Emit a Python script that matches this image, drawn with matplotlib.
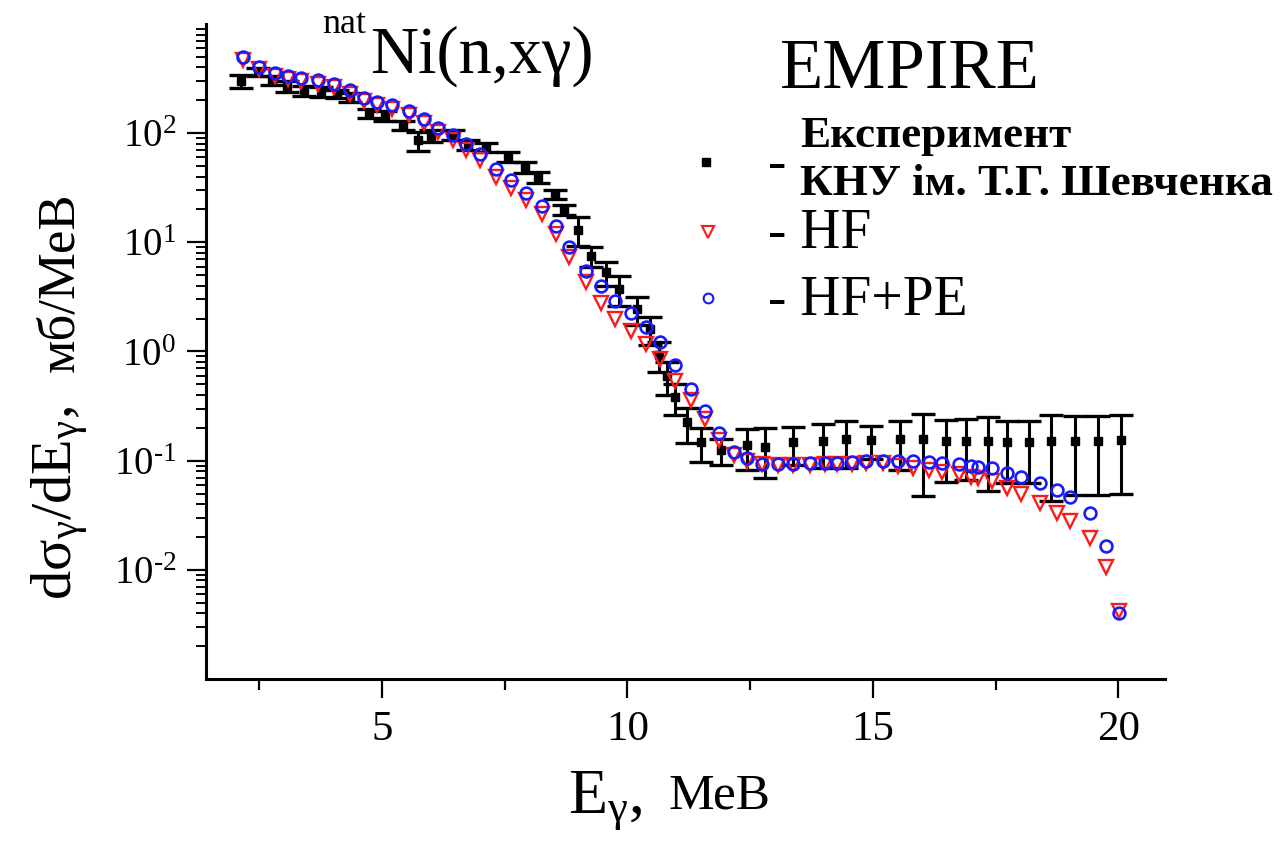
import numpy as np
import matplotlib
matplotlib.use("Agg")
from matplotlib import pyplot as plt
from matplotlib.ticker import FixedLocator, LogLocator, NullFormatter

# experiment (KNU), MeV / mb/MeV
exp_e = [2.13, 2.48, 2.77, 3.07, 3.41, 3.77, 4.09, 4.36, 4.73, 5.07, 5.44, 5.74, 6.01,
         6.45, 6.76, 7.13, 7.57, 7.91, 8.18, 8.52, 8.72, 8.99, 9.26, 9.56, 9.83, 10.19,
         10.46, 10.65, 10.80, 10.98, 11.22, 11.50, 11.91, 12.44, 12.81, 13.37, 13.98,
         14.45, 14.97, 15.56, 16.03, 16.49, 16.90, 17.35, 17.74, 18.18, 18.63, 19.11,
         19.58, 20.06]
exp_val = [300, 362, 304, 268, 246, 238, 230, 214, 153, 143, 118, 86, 95,
           96, 78, 74, 61, 49, 39.5, 27.8, 19.9, 13.1, 7.5, 5.3, 3.76, 2.44,
           1.6, 0.93, 0.60, 0.38, 0.226, 0.148, 0.124, 0.138, 0.134, 0.148, 0.151,
           0.157, 0.155, 0.157, 0.157, 0.151, 0.153, 0.153, 0.148, 0.148, 0.153, 0.153,
           0.153, 0.155]
exp_err = [40, 30, 30, 30, 25, 25, 20, 20, 15, 15, 12, 17, 12,
           10, 8, 6.5, 6, 5.5, 4.5, 2.6, 2.0, 3.8, 1.5, 1.3, 1.15, 0.7,
           0.46, 0.28, 0.2, 0.12, 0.08, 0.05, 0.033, 0.056, 0.065, 0.057, 0.065,
           0.072, 0.052, 0.075, 0.11, 0.087, 0.087, 0.1, 0.085, 0.085, 0.11, 0.105,
           0.105, 0.105]

# EMPIRE calculations
calc_e = [2.17, 2.50, 2.82, 3.09, 3.36, 3.70, 4.02, 4.36, 4.63, 4.90, 5.20, 5.55, 5.85,
          6.15, 6.45, 6.72, 6.99, 7.33, 7.64, 7.94, 8.26, 8.55, 8.82, 9.16, 9.46, 9.75,
          10.07, 10.38, 10.67, 10.98, 11.29, 11.58, 11.87, 12.17, 12.44, 12.74, 13.06,
          13.38, 13.72, 14.03, 14.28, 14.57, 14.87, 15.20, 15.51, 15.82, 16.14, 16.41,
          16.75, 17.00, 17.14, 17.43, 17.74, 18.02, 18.40, 18.76, 19.01, 19.42, 19.75,
          20.01]
hf = [470, 385, 335, 312, 300, 285, 265, 230, 197, 180, 166, 148, 124,
      103, 86, 70, 56.7, 40, 31.3, 24.5, 18, 12, 7.3, 4.35, 2.8, 2.0,
      1.55, 1.17, 0.853, 0.54, 0.356, 0.24, 0.155, 0.112, 0.1, 0.094, 0.092,
      0.092, 0.092, 0.093, 0.093, 0.094, 0.095, 0.096, 0.0895, 0.0855, 0.0815, 0.079,
      0.0748, 0.0712, 0.069, 0.0645, 0.0567, 0.0499, 0.0406, 0.0332, 0.0278, 0.0194, 0.0106,
      0.0042]
hf_pe = [497, 408, 355, 331, 322, 304, 284, 246, 211, 193, 180, 160, 136,
         112, 96, 80, 65, 47, 37.3, 28.2, 21.3, 14.2, 9.0, 5.5, 3.98, 2.9,
         2.24, 1.69, 1.22, 0.75, 0.454, 0.288, 0.18, 0.120, 0.106, 0.094, 0.094,
         0.094, 0.096, 0.096, 0.096, 0.0975, 0.099, 0.1, 0.1, 0.1, 0.098, 0.096,
         0.093, 0.0895, 0.088, 0.085, 0.0776, 0.0712, 0.0627, 0.0538, 0.0465, 0.0332, 0.0164,
         0.00405]

ytick_vals = [1e-2, 1e-1, 1e0, 1e1, 1e2]
ytick_text = [r"$\mathregular{10^{\text{-}2}}$", r"$\mathregular{10^{\text{-}1}}$",
              r"$\mathregular{10^{0}}$", r"$\mathregular{10^{1}}$",
              r"$\mathregular{10^{2}}$"]

W, H = 1281, 846
plt.rcParams["font.family"] = ["Liberation Serif", "DejaVu Serif"]
plt.rcParams["mathtext.fontset"] = "custom"
plt.rcParams["mathtext.rm"] = "Liberation Serif"
plt.rcParams["mathtext.it"] = "Liberation Serif:italic"
plt.rcParams["mathtext.bf"] = "Liberation Serif:bold"

RED = "#ff1a1a"
BLUE = "#1a1aff"


def fx(px):
    return px / W


def fy(py):
    return 1 - py / H


fig = plt.figure(figsize=(W / 100, H / 100), dpi=100)
ax = fig.add_axes([fx(206), fy(679), fx(1165) - fx(206), fy(24) - fy(679)])

ax.errorbar(exp_e, exp_val, yerr=exp_err, fmt="s", color="black", ms=6,
            elinewidth=2.2, capsize=8.5, capthick=2.4, zorder=2)
ax.plot(calc_e, hf, "v", ls="none", mfc="none", mec=RED, mew=1.7, ms=10.5, zorder=3)
ax.plot(calc_e, hf_pe, "o", ls="none", mfc="none", mec=BLUE, mew=1.9, ms=8.5, zorder=4)

ax.set_yscale("log")
ax.set_xlim(1.42, 20.95)
ax.set_ylim(1e-3, 1e3)

for s in ["top", "right"]:
    ax.spines[s].set_visible(False)
for s in ["left", "bottom"]:
    ax.spines[s].set_linewidth(2.2)

ax.xaxis.set_major_locator(FixedLocator([5, 10, 15, 20]))
ax.xaxis.set_minor_locator(FixedLocator([2.5, 7.5, 12.5, 17.5]))
ax.yaxis.set_major_locator(FixedLocator(ytick_vals))
ax.yaxis.set_minor_locator(LogLocator(base=10, subs=np.arange(2, 10), numticks=20))
ax.yaxis.set_minor_formatter(NullFormatter())
ax.set_yticklabels(ytick_text)
ax.tick_params(axis="x", which="major", direction="out", length=13.5, width=1.6,
               labelsize=31, pad=9)
ax.tick_params(axis="x", which="minor", direction="out", length=8, width=1.6)
ax.tick_params(axis="y", which="major", direction="out", length=13.5, width=1.6,
               labelsize=28, pad=8)
ax.tick_params(axis="y", which="minor", direction="out", length=7, width=1.4)

# axis titles
fig.text(fx(568), fy(812), r"$\mathregular{E_{\gamma},}$", fontsize=46,
         ha="left", va="baseline")
fig.text(fx(668), fy(808), "МеВ", fontsize=37, ha="left", va="baseline")
fig.text(fx(72), fy(600), r"$\mathregular{d\sigma_{\gamma}/dE_{\gamma},}$", fontsize=42,
         rotation=90, rotation_mode="anchor", ha="left", va="baseline")
fig.text(fx(73), fy(372), "мб/МеВ", fontsize=38,
         rotation=90, rotation_mode="anchor", ha="left", va="baseline")

# titles
fig.text(fx(322), fy(33), "nat", fontsize=26, ha="left", va="baseline")
fig.text(fx(370), fy(73), "Ni(n,xγ)", fontsize=48, ha="left", va="baseline")
fig.text(fx(780), fy(88), "EMPIRE", fontsize=51, ha="left", va="baseline")

# legend
fig.lines.append(plt.Line2D([fx(706)], [fy(162)], marker="s", color="black", ms=5.5,
                            transform=fig.transFigure))
fig.lines.append(plt.Line2D([fx(708)], [fy(232)], marker="v", mfc="none", mec=RED,
                            mew=1.5, ms=8.5, transform=fig.transFigure))
fig.lines.append(plt.Line2D([fx(708)], [fy(298)], marker="o", mfc="none", mec=BLUE,
                            mew=1.5, ms=7, transform=fig.transFigure))
fig.text(fx(768), fy(179), "-", fontsize=40, ha="left", va="baseline")
fig.text(fx(800), fy(147), "Експеримент", fontsize=32.5, fontweight="bold",
         ha="left", va="baseline")
fig.text(fx(800), fy(195), "КНУ ім. Т.Г. Шевченка", fontsize=32.5, fontweight="bold",
         ha="left", va="baseline")
fig.text(fx(768), fy(248), "- HF", fontsize=40, ha="left", va="baseline")
fig.text(fx(768), fy(315), "- HF+PE", fontsize=40, ha="left", va="baseline")

fig.savefig("out.png", dpi=100)
